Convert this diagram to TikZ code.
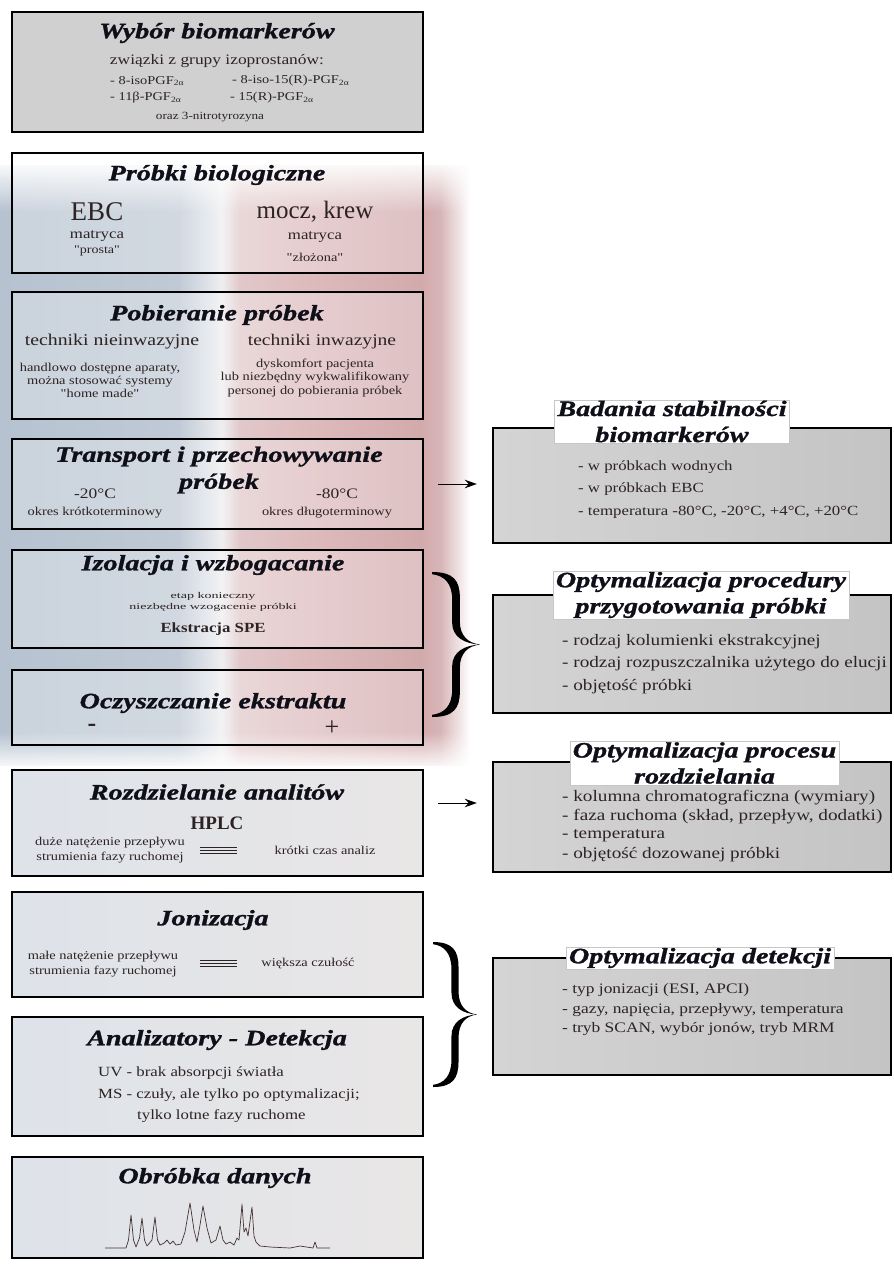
\documentclass[tikz,border=0pt]{standalone}
\usepackage{fontspec}
\setmainfont{Liberation Serif}
\newfontfamily\wideTitle[FakeStretch=1.28, FakeBold=1.3]{Liberation Serif}
\newfontfamily\wideBody[FakeStretch=1.2]{Liberation Serif}
\newfontfamily\wideSmall[FakeStretch=1.6]{Liberation Serif}
\usetikzlibrary{arrows.meta,fadings,shadings}
\newcommand\tfnt{\wideTitle\bfseries\itshape\fontsize{22}{26}\selectfont}
\newcommand\bsz[2]{\wideBody\fontsize{#1}{#2}\selectfont}
\newcommand\rsz[2]{\fontsize{#1}{#2}\selectfont}
\definecolor{titlec}{RGB}{15,15,25}
\definecolor{bodyc}{RGB}{45,35,35}
\definecolor{boxone}{RGB}{208,208,208}
\definecolor{lowL}{RGB}{222,227,233}
\definecolor{lowR}{RGB}{233,230,230}
\definecolor{rL}{RGB}{212,212,212}
\definecolor{rR}{RGB}{196,196,196}
\definecolor{chrom}{RGB}{70,50,50}
\pgfdeclarehorizontalshading{bgshade}{100bp}{rgb(0bp)=(0.714,0.761,0.816); rgb(25bp)=(0.714,0.761,0.816); rgb(44bp)=(0.753,0.792,0.839); rgb(46.8bp)=(0.863,0.878,0.902); rgb(48.6bp)=(0.933,0.933,0.941); rgb(50.5bp)=(0.882,0.784,0.792); rgb(57bp)=(0.871,0.737,0.745); rgb(69.7bp)=(0.824,0.667,0.675); rgb(71.8bp)=(0.843,0.706,0.714); rgb(75bp)=(1,1,1); rgb(100bp)=(1,1,1)}
\tikzfading[name=fadetop, top color=transparent!0, bottom color=transparent!100]
\tikzfading[name=fadebottom, top color=transparent!100, bottom color=transparent!0]
\begin{document}
\begin{tikzpicture}[x=1pt,y=-1pt,
  lbox/.style={draw=black, line width=2.4pt, inner sep=0pt, minimum width=411pt},
  rbox/.style={draw=black, line width=2.4pt, inner sep=0pt, minimum width=398pt, left color=rL, right color=rR},
  ttl/.style={font=\tfnt, inner sep=0pt, align=center, text=titlec},
  rttl/.style={font=\tfnt, inner xsep=3pt, inner ysep=1pt, align=center, text=titlec, fill=white, draw=gray!45, line width=0.4pt},
  txt/.style={inner sep=0pt, align=center, text=bodyc},
  item/.style={inner sep=0pt, anchor=west, text=bodyc},
  arr/.style={-{Stealth[length=12pt,width=8.5pt]}, line width=1pt, shorten <=14pt, shorten >=15pt},
  eqv/.style={line width=0.9pt, draw=bodyc}]
\useasboundingbox (0,0) rectangle (894,1270);
% background gradient
\shade[shading=bgshade] (0,165) rectangle (470,765);
\fill[white, path fading=fadetop] (0,160) rectangle (480,212);
\fill[white, path fading=fadebottom] (0,732) rectangle (480,770);
% left boxes
\node[lbox, fill=boxone, minimum height=120pt] (b1) at (217.5,72) {};
\node[lbox, fill=white, fill opacity=0.28, minimum height=120pt] (b2) at (217.5,213) {};
\node[lbox, fill=white, fill opacity=0.28, minimum height=127pt] (b3) at (217.5,355.5) {};
\node[lbox, fill=white, fill opacity=0.28, minimum height=90pt] (b4) at (217.5,484) {};
\node[lbox, fill=white, fill opacity=0.28, minimum height=98pt] (b5) at (217.5,599) {};
\node[lbox, fill=white, fill opacity=0.28, minimum height=75pt] (b6) at (217.5,707.5) {};
\node[lbox, left color=lowL, right color=lowR, minimum height=106pt] (b7) at (217.5,823) {};
\node[lbox, left color=lowL, right color=lowR, minimum height=105pt] (b8) at (217.5,944.5) {};
\node[lbox, left color=lowL, right color=lowR, minimum height=119pt] (b9) at (217.5,1076.5) {};
\node[lbox, left color=lowL, right color=lowR, minimum height=101pt] (b10) at (217.5,1207.5) {};
% right boxes
\node[rbox, minimum height=115pt] (r1) at (692,485.5) {};
\node[rbox, minimum height=118pt] (r2) at (692,654) {};
\node[rbox, minimum height=110pt] (r3) at (692,817) {};
\node[rbox, minimum height=117pt] (r4) at (692,1016.5) {};
% box 1
\node[ttl] (t1) at (217,33) {Wybór biomarkerów};
\node[txt, font=\bsz{14.5}{17}] (t1a) at (217,61) {związki z grupy izoprostanów:};
\node[item, font=\bsz{12}{13}] (t1b) at (110,81) {- 8-isoPGF\textsubscript{2α}};
\node[item, font=\bsz{12}{13}] (t1c) at (232,81) {- 8-iso-15(R)-PGF\textsubscript{2α}};
\node[item, font=\bsz{12}{13}] (t1d) at (110,98) {- 11β-PGF\textsubscript{2α}};
\node[item, font=\bsz{12}{13}] (t1e) at (230,98) {- 15(R)-PGF\textsubscript{2α}};
\node[txt, font=\bsz{11}{13}] (t1f) at (210,117) {oraz 3-nitrotyrozyna};
% box 2
\node[ttl] (t2) at (217,175) {Próbki biologiczne};
\node[txt, font=\rsz{27}{30}] (t2a) at (97,212) {EBC};
\node[txt, font=\bsz{14}{16}] (t2b) at (97,236) {matryca};
\node[txt, font=\bsz{11.7}{14}] (t2c) at (97,251) {"prosta"};
\node[txt, font=\rsz{25}{28}] (t2d) at (315,212) {mocz, krew};
\node[txt, font=\bsz{14}{16}] (t2e) at (315,237) {matryca};
\node[txt, font=\bsz{12}{14}] (t2f) at (315,257) {"złożona"};
% box 3
\node[ttl] (t3) at (217,315) {Pobieranie próbek};
\node[txt, font=\bsz{16.5}{19}] (t3a) at (112,342) {techniki nieinwazyjne};
\node[txt, font=\bsz{16.3}{19}] (t3b) at (322,342) {techniki inwazyjne};
\node[txt, font=\bsz{12}{13}] (t3c) at (100,380) {handlowo dostępne aparaty,\\można stosować systemy\\"home made"};
\node[txt, font=\bsz{12}{13.5}] (t3d) at (315,378) {dyskomfort pacjenta\\lub niezbędny wykwalifikowany\\personej do pobierania próbek};
% box 4
\node[ttl, font=\wideTitle\bfseries\itshape\fontsize{22}{27}\selectfont] (t4) at (219,470) {Transport i przechowywanie\\próbek};
\node[txt, font=\bsz{14.5}{17}] (t4a) at (95,494) {-20°C};
\node[txt, font=\bsz{12}{14}] (t4b) at (95,513) {okres krótkoterminowy};
\node[txt, font=\bsz{14.5}{17}] (t4c) at (337,494) {-80°C};
\node[txt, font=\bsz{12}{14}] (t4d) at (327,513) {okres długoterminowy};
% box 5
\node[ttl] (t5) at (213,565) {Izolacja i wzbogacanie};
\node[txt, font=\wideSmall\fontsize{8.8}{11}\selectfont] (t5a) at (213,602) {etap konieczny\\niezbędne wzogacenie próbki};
\node[txt, font=\bsz{14}{16}\bfseries] (t5b) at (213,629) {Ekstracja SPE};
% box 6
\node[ttl] (t6) at (213,703) {Oczyszczanie ekstraktu};
\node[txt, font=\rsz{26}{28}\bfseries] (t6a) at (92,728) {-};
\node[txt, font=\rsz{26}{28}] (t6b) at (332,728) {+};
% box 7
\node[ttl] (t7) at (217,792) {Rozdzielanie analitów};
\node[txt, font=\rsz{19}{21}\bfseries] (t7a) at (217,823) {HPLC};
\node[txt, font=\bsz{12}{15}] (t7b) at (110,850) {duże natężenie przepływu\\strumienia fazy ruchomej};
\node[txt, font=\bsz{12}{14}] (t7c) at (325,850) {krótki czas analiz};
\draw[eqv] (200,847) -- (237,847) (200,850) -- (237,850) (200,853) -- (237,853);
% box 8
\node[ttl] (t8) at (213,920) {Jonizacja};
\node[txt, font=\bsz{12}{14.5}] (t8a) at (103,964) {małe natężenie przepływu\\strumienia fazy ruchomej};
\node[txt, font=\bsz{12}{14}] (t8b) at (308,963) {większa czułość};
\draw[eqv] (200,960) -- (237,960) (200,963) -- (237,963) (200,966) -- (237,966);
% box 9
\node[ttl] (t9) at (217,1040) {Analizatory - Detekcja};
\node[item, font=\bsz{14}{16}] (t9a) at (98,1073) {UV - brak absorpcji światła};
\node[item, font=\bsz{14}{16}] (t9b) at (98,1095) {MS - czuły, ale tylko po optymalizacji;};
\node[item, font=\bsz{14}{16}] (t9c) at (137,1116) {tylko lotne fazy ruchome};
% box 10
\node[ttl] (t10) at (215,1178) {Obróbka danych};
\draw[chrom, line width=0.7pt, line join=round]
 (105,1248) -- (126,1248) -- (128.5,1240) -- (131,1215) -- (133.5,1240) -- (136,1247) -- (139.5,1238) -- (142,1218) -- (144.5,1240) -- (147,1246) -- (152,1240) -- (155,1217) -- (157.5,1240) -- (160,1245) -- (164,1243) -- (167,1240) -- (170,1244) -- (173,1241) -- (176,1245) -- (181,1244) -- (185,1232) -- (190,1203) -- (194,1230) -- (197,1242) -- (200,1225) -- (203,1206) -- (207,1228) -- (211,1243) -- (216,1240) -- (220,1226) -- (223,1240) -- (226,1244) -- (230,1242) -- (234,1245) -- (237,1238) -- (239,1240) -- (242,1204) -- (244,1232) -- (246,1228) -- (248,1236) -- (252,1207) -- (254,1236) -- (256,1242) -- (260,1246) -- (270,1247) -- (290,1248) -- (300,1246) -- (313,1248) -- (315,1242) -- (317,1248) -- (330,1248);
% right titles and items
\node[rttl] (rt1) at (672,421.5) {Badania stabilności\\biomarkerów};
\node[item, font=\bsz{14}{16}] (r1a) at (578,467) {- w próbkach wodnych};
\node[item, font=\bsz{14}{16}] (r1b) at (578,489) {- w próbkach EBC};
\node[item, font=\bsz{14}{16}] (r1c) at (578,512) {- temperatura -80°C, -20°C, +4°C, +20°C};
\node[rttl] (rt2) at (701,595) {Optymalizacja procedury\\przygotowania próbki};
\node[item, font=\bsz{16}{18}] (r2a) at (562,642) {- rodzaj kolumienki ekstrakcyjnej};
\node[item, font=\bsz{16}{18}] (r2b) at (562,664) {- rodzaj rozpuszczalnika użytego do elucji};
\node[item, font=\bsz{16}{18}] (r2c) at (562,687) {- objętość próbki};
\node[rttl] (rt3) at (704.5,763) {Optymalizacja procesu\\rozdzielania};
\node[item, font=\bsz{16}{18}] (r3a) at (562,798) {- kolumna chromatograficzna (wymiary)};
\node[item, font=\bsz{16}{18}] (r3b) at (562,817) {- faza ruchoma (skład, przepływ, dodatki)};
\node[item, font=\bsz{16}{18}] (r3c) at (562,836) {- temperatura};
\node[item, font=\bsz{16}{18}] (r3d) at (562,855) {- objętość dozowanej próbki};
\node[rttl] (rt4) at (700,958) {Optymalizacja detekcji};
\node[item, font=\bsz{14.5}{17}] (r4a) at (562,990) {- typ jonizacji (ESI, APCI)};
\node[item, font=\bsz{14.5}{17}] (r4b) at (562,1010) {- gazy, napięcia, przepływy, temperatura};
\node[item, font=\bsz{14.5}{17}] (r4c) at (562,1029) {- tryb SCAN, wybór jonów, tryb MRM};
% arrows
\coordinate (a1s) at (b4.east);
\coordinate (a1e) at (a1s -| r1.west);
\draw[arr] (a1s) -- (a1e);
\coordinate (a2s) at ([yshift=20pt]b7.east);
\coordinate (a2e) at (a2s -| r3.west);
\draw[arr] (a2s) -- (a2e);
% braces
\begin{scope}[shift={(432,572)}, x=48pt, y=-72.5pt]
\fill[black] (0,0) .. controls (0.45,0) and (0.58,0.12) .. (0.58,0.35) -- (0.58,0.68) .. controls (0.58,0.88) and (0.75,0.98) .. (1,1)
 .. controls (0.75,1.02) and (0.58,1.12) .. (0.58,1.32) -- (0.58,1.65) .. controls (0.58,1.88) and (0.45,2) .. (0,2)
 -- (0,1.97) .. controls (0.25,1.95) and (0.42,1.85) .. (0.42,1.62) -- (0.42,1.3) .. controls (0.42,1.1) and (0.68,1.01) .. (1,1)
 .. controls (0.68,0.99) and (0.42,0.9) .. (0.42,0.7) -- (0.42,0.38) .. controls (0.42,0.15) and (0.25,0.05) .. (0,0.03) -- cycle;
\end{scope}
\begin{scope}[shift={(433,942)}, x=44pt, y=-72.5pt]
\fill[black] (0,0) .. controls (0.45,0) and (0.58,0.12) .. (0.58,0.35) -- (0.58,0.68) .. controls (0.58,0.88) and (0.75,0.98) .. (1,1)
 .. controls (0.75,1.02) and (0.58,1.12) .. (0.58,1.32) -- (0.58,1.65) .. controls (0.58,1.88) and (0.45,2) .. (0,2)
 -- (0,1.97) .. controls (0.25,1.95) and (0.42,1.85) .. (0.42,1.62) -- (0.42,1.3) .. controls (0.42,1.1) and (0.68,1.01) .. (1,1)
 .. controls (0.68,0.99) and (0.42,0.9) .. (0.42,0.7) -- (0.42,0.38) .. controls (0.42,0.15) and (0.25,0.05) .. (0,0.03) -- cycle;
\end{scope}
\end{tikzpicture}
\end{document}
